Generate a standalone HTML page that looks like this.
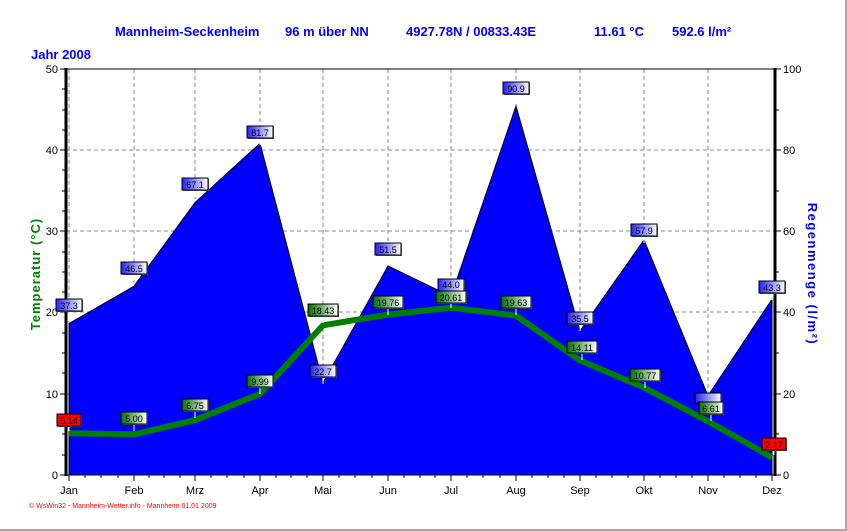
<!DOCTYPE html>
<html><head><meta charset="utf-8"><style>
html,body{margin:0;padding:0;background:#fff;}
svg{display:block;font-family:"Liberation Sans",sans-serif;}
</style></head><body>
<svg width="847" height="531" viewBox="0 0 847 531" xmlns="http://www.w3.org/2000/svg">
<defs>
<linearGradient id="gb" x1="0" x2="1"><stop offset="0" stop-color="#2020ff"/><stop offset="1" stop-color="#ffffff"/></linearGradient>
<linearGradient id="gg" x1="0" x2="1"><stop offset="0" stop-color="#007000"/><stop offset="1" stop-color="#ffffff"/></linearGradient>
</defs>
<rect x="0" y="0" width="847" height="531" fill="#fff"/>
<line x1="0" y1="530" x2="847" y2="530" stroke="#a8a8a0" stroke-width="2"/>
<line x1="846" y1="0" x2="846" y2="531" stroke="#a8a8a0" stroke-width="2"/>
<g fill="#0000ff" font-weight="bold" font-size="13">
<text x="115" y="36">Mannheim-Seckenheim</text>
<text x="285" y="36">96 m über NN</text>
<text x="406" y="36">4927.78N / 00833.43E</text>
<text x="594" y="36">11.61 °C</text>
<text x="672" y="36">592.6 l/m²</text>
<text x="31" y="59">Jahr  2008</text>
</g>
<g stroke="#888" stroke-dasharray="4,3" stroke-width="1">
<line x1="134" y1="69" x2="134" y2="475"/><line x1="195" y1="69" x2="195" y2="475"/><line x1="260" y1="69" x2="260" y2="475"/><line x1="323" y1="69" x2="323" y2="475"/><line x1="388" y1="69" x2="388" y2="475"/><line x1="451" y1="69" x2="451" y2="475"/><line x1="516" y1="69" x2="516" y2="475"/><line x1="580" y1="69" x2="580" y2="475"/><line x1="644" y1="69" x2="644" y2="475"/><line x1="708" y1="69" x2="708" y2="475"/><line x1="69" y1="69" x2="69" y2="475"/>
<line x1="66" y1="150" x2="775" y2="150"/><line x1="66" y1="231" x2="775" y2="231"/><line x1="66" y1="312" x2="775" y2="312"/><line x1="66" y1="394" x2="775" y2="394"/>
</g>
<polygon fill="#0000ff" stroke="#000" stroke-width="1" points="69,475 69,323.6 134,286.2 195,202.6 260,143.3 323,382.8 388,265.9 451,296.4 516,106 580,330.9 644,239.9 708,395.8 772,299.2 772,475"/>
<polyline fill="none" stroke="#008000" stroke-width="6" stroke-linejoin="round" points="69,433.3 134,434.4 195,420.2 260,393.9 323,325.3 388,314.6 451,307.7 516,315.6 580,360.4 644,387.5 708,421.3 772,457.4"/>
<line x1="66" y1="68" x2="66" y2="476" stroke="#000" stroke-width="3"/>
<line x1="775" y1="68" x2="775" y2="476" stroke="#000" stroke-width="3"/>
<line x1="66" y1="69" x2="775" y2="69" stroke="#000" stroke-width="1"/>
<line x1="66" y1="475" x2="775" y2="475" stroke="#000" stroke-width="1"/>
<g stroke="#000" stroke-width="1">
<line x1="60" y1="69" x2="66" y2="69"/><line x1="60" y1="150" x2="66" y2="150"/><line x1="60" y1="231" x2="66" y2="231"/><line x1="60" y1="312" x2="66" y2="312"/><line x1="60" y1="394" x2="66" y2="394"/><line x1="60" y1="475" x2="66" y2="475"/>
<line x1="62" y1="89" x2="66" y2="89"/><line x1="62" y1="110" x2="66" y2="110"/><line x1="62" y1="130" x2="66" y2="130"/><line x1="62" y1="170" x2="66" y2="170"/><line x1="62" y1="191" x2="66" y2="191"/><line x1="62" y1="211" x2="66" y2="211"/><line x1="62" y1="252" x2="66" y2="252"/><line x1="62" y1="272" x2="66" y2="272"/><line x1="62" y1="292" x2="66" y2="292"/><line x1="62" y1="333" x2="66" y2="333"/><line x1="62" y1="353" x2="66" y2="353"/><line x1="62" y1="373" x2="66" y2="373"/><line x1="62" y1="414" x2="66" y2="414"/><line x1="62" y1="434" x2="66" y2="434"/><line x1="62" y1="455" x2="66" y2="455"/>
<line x1="775" y1="69" x2="781" y2="69"/><line x1="775" y1="150" x2="781" y2="150"/><line x1="775" y1="231" x2="781" y2="231"/><line x1="775" y1="312" x2="781" y2="312"/><line x1="775" y1="394" x2="781" y2="394"/><line x1="775" y1="475" x2="781" y2="475"/>
<line x1="775" y1="110" x2="779" y2="110"/><line x1="775" y1="191" x2="779" y2="191"/><line x1="775" y1="272" x2="779" y2="272"/><line x1="775" y1="353" x2="779" y2="353"/><line x1="775" y1="434" x2="779" y2="434"/>
</g>
<g stroke="#000" stroke-width="1">
<line x1="69" y1="475" x2="69" y2="481"/><line x1="134" y1="475" x2="134" y2="481"/><line x1="195" y1="475" x2="195" y2="481"/><line x1="260" y1="475" x2="260" y2="481"/><line x1="323" y1="475" x2="323" y2="481"/><line x1="388" y1="475" x2="388" y2="481"/><line x1="451" y1="475" x2="451" y2="481"/><line x1="516" y1="475" x2="516" y2="481"/><line x1="580" y1="475" x2="580" y2="481"/><line x1="644" y1="475" x2="644" y2="481"/><line x1="708" y1="475" x2="708" y2="481"/><line x1="772" y1="475" x2="772" y2="481"/>
<line x1="85" y1="475" x2="85" y2="478"/><line x1="101" y1="475" x2="101" y2="478"/><line x1="118" y1="475" x2="118" y2="478"/>
<line x1="149" y1="475" x2="149" y2="478"/><line x1="164" y1="475" x2="164" y2="478"/><line x1="180" y1="475" x2="180" y2="478"/>
<line x1="211" y1="475" x2="211" y2="478"/><line x1="227" y1="475" x2="227" y2="478"/><line x1="244" y1="475" x2="244" y2="478"/>
<line x1="276" y1="475" x2="276" y2="478"/><line x1="291" y1="475" x2="291" y2="478"/><line x1="307" y1="475" x2="307" y2="478"/>
<line x1="339" y1="475" x2="339" y2="478"/><line x1="355" y1="475" x2="355" y2="478"/><line x1="372" y1="475" x2="372" y2="478"/>
<line x1="404" y1="475" x2="404" y2="478"/><line x1="420" y1="475" x2="420" y2="478"/><line x1="435" y1="475" x2="435" y2="478"/>
<line x1="467" y1="475" x2="467" y2="478"/><line x1="483" y1="475" x2="483" y2="478"/><line x1="500" y1="475" x2="500" y2="478"/>
<line x1="532" y1="475" x2="532" y2="478"/><line x1="548" y1="475" x2="548" y2="478"/><line x1="564" y1="475" x2="564" y2="478"/>
<line x1="596" y1="475" x2="596" y2="478"/><line x1="612" y1="475" x2="612" y2="478"/><line x1="628" y1="475" x2="628" y2="478"/>
<line x1="660" y1="475" x2="660" y2="478"/><line x1="676" y1="475" x2="676" y2="478"/><line x1="692" y1="475" x2="692" y2="478"/>
<line x1="724" y1="475" x2="724" y2="478"/><line x1="740" y1="475" x2="740" y2="478"/><line x1="756" y1="475" x2="756" y2="478"/>
</g>
<g font-size="11" fill="#000" text-anchor="end">
<text x="58" y="73">50</text><text x="58" y="154">40</text><text x="58" y="235">30</text><text x="58" y="316">20</text><text x="58" y="398">10</text><text x="58" y="479">0</text>
</g>
<g font-size="11" fill="#000">
<text x="783" y="73">100</text><text x="783" y="154">80</text><text x="783" y="235">60</text><text x="783" y="316">40</text><text x="783" y="398">20</text><text x="783" y="479">0</text>
</g>
<g font-size="11" fill="#000" text-anchor="middle">
<text x="69" y="494">Jan</text><text x="134" y="494">Feb</text><text x="195" y="494">Mrz</text><text x="260" y="494">Apr</text><text x="323" y="494">Mai</text><text x="388" y="494">Jun</text><text x="451" y="494">Jul</text><text x="516" y="494">Aug</text><text x="580" y="494">Sep</text><text x="644" y="494">Okt</text><text x="708" y="494">Nov</text><text x="772" y="494">Dez</text>
</g>
<text transform="translate(40,274) rotate(-90)" text-anchor="middle" font-size="13" font-weight="bold" fill="#008000" letter-spacing="1">Temperatur  (°C)</text>
<text transform="translate(808,274) rotate(90)" text-anchor="middle" font-size="13" font-weight="bold" fill="#0000ff" letter-spacing="1.5">Regenmenge  (l/m²)</text>
<text x="29" y="508" font-size="7" fill="#ff0000">© WsWin32 - Mannheim-Wetter.info - Mannheim  01.01.2009</text>
<g font-size="9" text-anchor="middle" fill="#000">
<g transform="translate(69,318)"><line x1="0" y1="-6" x2="0" y2="0" stroke="#fff"/><rect x="-12" y="-18" width="26" height="12" fill="#666"/><rect x="-13" y="-19" width="26" height="12" fill="url(#gb)" stroke="#000"/><text y="-9">37.3</text></g>
<g transform="translate(134,281)"><line x1="0" y1="-6" x2="0" y2="0" stroke="#fff"/><rect x="-12" y="-18" width="26" height="12" fill="#666"/><rect x="-13" y="-19" width="26" height="12" fill="url(#gb)" stroke="#000"/><text y="-9">46.5</text></g>
<g transform="translate(195,197)"><line x1="0" y1="-6" x2="0" y2="0" stroke="#fff"/><rect x="-12" y="-18" width="26" height="12" fill="#666"/><rect x="-13" y="-19" width="26" height="12" fill="url(#gb)" stroke="#000"/><text y="-9">67.1</text></g>
<g transform="translate(260,145)"><line x1="0" y1="-6" x2="0" y2="0" stroke="#fff"/><rect x="-12" y="-18" width="26" height="12" fill="#666"/><rect x="-13" y="-19" width="26" height="12" fill="url(#gb)" stroke="#000"/><text y="-9">81.7</text></g>
<g transform="translate(323,384)"><line x1="0" y1="-6" x2="0" y2="0" stroke="#fff"/><rect x="-12" y="-18" width="26" height="12" fill="#666"/><rect x="-13" y="-19" width="26" height="12" fill="url(#gb)" stroke="#000"/><text y="-9">22.7</text></g>
<g transform="translate(388,262)"><line x1="0" y1="-6" x2="0" y2="0" stroke="#fff"/><rect x="-12" y="-18" width="26" height="12" fill="#666"/><rect x="-13" y="-19" width="26" height="12" fill="url(#gb)" stroke="#000"/><text y="-9">51.5</text></g>
<g transform="translate(451,280)"><rect x="-12" y="0" width="26" height="12" fill="#666"/><rect x="-13" y="-1" width="26" height="12" fill="url(#gb)" stroke="#000"/><text y="8">44.0</text></g>
<g transform="translate(516,101)"><line x1="0" y1="-6" x2="0" y2="0" stroke="#fff"/><rect x="-12" y="-18" width="26" height="12" fill="#666"/><rect x="-13" y="-19" width="26" height="12" fill="url(#gb)" stroke="#000"/><text y="-9">90.9</text></g>
<g transform="translate(580,331)"><line x1="0" y1="-6" x2="0" y2="0" stroke="#fff"/><rect x="-12" y="-18" width="26" height="12" fill="#666"/><rect x="-13" y="-19" width="26" height="12" fill="url(#gb)" stroke="#000"/><text y="-9">35.5</text></g>
<g transform="translate(644,243)"><line x1="0" y1="-6" x2="0" y2="0" stroke="#fff"/><rect x="-12" y="-18" width="26" height="12" fill="#666"/><rect x="-13" y="-19" width="26" height="12" fill="url(#gb)" stroke="#000"/><text y="-9">57.9</text></g>
<g transform="translate(708,402)"><rect x="-12" y="-8" width="26" height="8" fill="#666"/><rect x="-13" y="-9" width="26" height="10" fill="url(#gb)" stroke="#000"/></g>
<g transform="translate(772,300)"><line x1="0" y1="-6" x2="0" y2="0" stroke="#fff"/><rect x="-12" y="-18" width="26" height="12" fill="#666"/><rect x="-13" y="-19" width="26" height="12" fill="url(#gb)" stroke="#000"/><text y="-9">43.3</text></g>
</g>
<g font-size="9" text-anchor="middle" fill="#000">
<g transform="translate(69,431)"><line x1="0" y1="-6" x2="0" y2="0" stroke="#fff"/><rect x="-11" y="-16" width="24" height="12" fill="#666"/><rect x="-12" y="-17" width="24" height="12" fill="#ff0000" stroke="#000"/><text y="-7">5.14</text></g>
<g transform="translate(134,431)"><line x1="0" y1="-6" x2="0" y2="0" stroke="#fff"/><rect x="-12" y="-18" width="26" height="12" fill="#666"/><rect x="-13" y="-19" width="26" height="12" fill="url(#gg)" stroke="#000"/><text y="-9">5.00</text></g>
<g transform="translate(195,418)"><line x1="0" y1="-6" x2="0" y2="0" stroke="#fff"/><rect x="-12" y="-18" width="26" height="12" fill="#666"/><rect x="-13" y="-19" width="26" height="12" fill="url(#gg)" stroke="#000"/><text y="-9">6.75</text></g>
<g transform="translate(260,394)"><line x1="0" y1="-6" x2="0" y2="0" stroke="#fff"/><rect x="-12" y="-18" width="26" height="12" fill="#666"/><rect x="-13" y="-19" width="26" height="12" fill="url(#gg)" stroke="#000"/><text y="-9">9.99</text></g>
<g transform="translate(323,323)"><line x1="0" y1="-6" x2="0" y2="0" stroke="#fff"/><rect x="-14" y="-18" width="30" height="12" fill="#666"/><rect x="-15" y="-19" width="30" height="12" fill="url(#gg)" stroke="#000"/><text y="-9">18.43</text></g>
<g transform="translate(388,315)"><line x1="0" y1="-6" x2="0" y2="0" stroke="#fff"/><rect x="-14" y="-18" width="30" height="12" fill="#666"/><rect x="-15" y="-19" width="30" height="12" fill="url(#gg)" stroke="#000"/><text y="-9">19.76</text></g>
<g transform="translate(451,308)"><line x1="0" y1="-6" x2="0" y2="0" stroke="#fff"/><rect x="-14" y="-16" width="30" height="12" fill="#666"/><rect x="-15" y="-17" width="30" height="12" fill="url(#gg)" stroke="#000"/><text y="-7">20.61</text></g>
<g transform="translate(516,315)"><line x1="0" y1="-6" x2="0" y2="0" stroke="#fff"/><rect x="-14" y="-18" width="30" height="12" fill="#666"/><rect x="-15" y="-19" width="30" height="12" fill="url(#gg)" stroke="#000"/><text y="-9">19.63</text></g>
<g transform="translate(582,360)"><line x1="0" y1="-6" x2="0" y2="0" stroke="#fff"/><rect x="-14" y="-18" width="30" height="12" fill="#666"/><rect x="-15" y="-19" width="30" height="12" fill="url(#gg)" stroke="#000"/><text y="-9">14.11</text></g>
<g transform="translate(645,388)"><line x1="0" y1="-6" x2="0" y2="0" stroke="#fff"/><rect x="-14" y="-18" width="30" height="12" fill="#666"/><rect x="-15" y="-19" width="30" height="12" fill="url(#gg)" stroke="#000"/><text y="-9">10.77</text></g>
<g transform="translate(711,421)"><line x1="0" y1="-6" x2="0" y2="0" stroke="#fff"/><rect x="-11" y="-18" width="24" height="12" fill="#666"/><rect x="-12" y="-19" width="24" height="12" fill="url(#gg)" stroke="#000"/><text y="-9">6.61</text></g>
<g transform="translate(774,455)"><line x1="0" y1="-6" x2="0" y2="0" stroke="#fff"/><rect x="-11" y="-16" width="24" height="12" fill="#666"/><rect x="-12" y="-17" width="24" height="12" fill="#ff0000" stroke="#000"/><text y="-7">2.17</text></g>
</g>
</svg>
</body></html>
